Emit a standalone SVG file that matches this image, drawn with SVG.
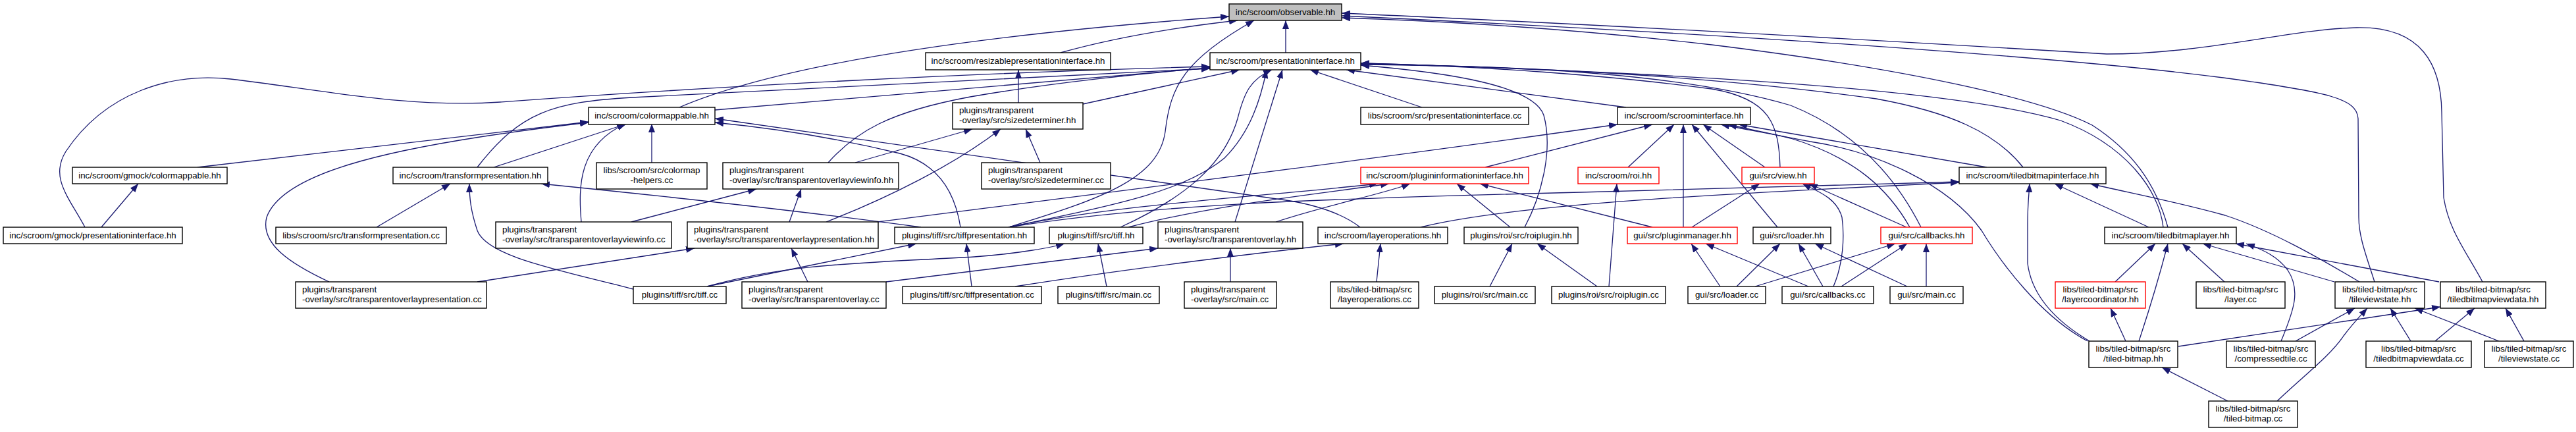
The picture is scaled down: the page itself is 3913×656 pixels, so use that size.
<svg xmlns="http://www.w3.org/2000/svg" width="3913" height="656" viewBox="0 0 3913 656">
<style>
.n rect{fill:#fff;stroke:#000;stroke-width:1.4}
.n.r rect{stroke:#f00}
.n.root rect{fill:#bfbfbf}
.n text{font-family:"Liberation Sans",Arial,sans-serif;font-size:13.3px;fill:#000;text-anchor:middle}
.n text.l{text-anchor:start}
#edges path{fill:none;stroke:#191970;stroke-width:1.3;marker-end:url(#a)}
</style>
<defs>
<marker id="a" markerUnits="userSpaceOnUse" markerWidth="13" markerHeight="10" viewBox="0 0 13 10" refX="13" refY="5" orient="auto"><path d="M0,0 L13,5 L0,10 z" fill="#191970"/></marker>
</defs>
<rect width="3913" height="656" fill="#fff"/>
<g id="edges">
<path d="M1611,80 C1700,55 1800,40 1880,31"/>
<path d="M1953,80 L1953,31"/>
<path d="M1032,163 Q1250,70 1867,25"/>
<path d="M1532,345 C1680,300 1760,270 1770,200 C1778,130 1800,90 1905,31"/>
<path d="M3607,428 C3595,390 3583,360 3583,330 L3582,180 C3580,150 3540,140 3377,118 C3200,95 2800,60 2038,24"/>
<path d="M3771,428 C3745,380 3720,350 3712,300 L3709,170 C3708,100 3680,40 3580,42 C3480,44 3350,82 3200,82 C3000,70 2500,40 2038,20"/>
<path d="M3293,345 C3275,280 3240,230 3178,190 C3100,150 2900,105 2600,68 C2400,45 2200,32 2038,27"/>
<path d="M1086,167 L1838,103"/>
<path d="M1547,156 L1547,106"/>
<path d="M1645,158 L1883,106"/>
<path d="M2160,163 L1990,106"/>
<path d="M2470,163 L2045,106"/>
<path d="M300,254 L894,185"/>
<path d="M750,254 L952,188"/>
<path d="M725,254 C790,170 840,155 960,148 L1838,104"/>
<path d="M990,247 L990,188"/>
<path d="M1299,247 L1477,196"/>
<path d="M1258,247 C1300,200 1350,170 1474,147 C1600,125 1750,110 1838,103"/>
<path d="M1580,247 L1558,196"/>
<path d="M2256,254 L2510,189"/>
<path d="M2473,254 L2543,189"/>
<path d="M2681,254 L2587,189"/>
<path d="M2704,254 C2702,190 2690,150 2600,135 C2450,115 2250,100 2067,96"/>
<path d="M3018,254 L2641,189"/>
<path d="M3073,254 C3030,200 2960,170 2850,150 C2600,115 2300,100 2067,97"/>
<path d="M129,345 C105,300 75,270 100,230 C160,140 260,110 350,120 C480,135 620,165 760,155 C1100,130 1500,110 1838,101"/>
<path d="M154,345 L210,279"/>
<path d="M572,345 L684,279"/>
<path d="M959,337 L1149,287"/>
<path d="M883,337 C878,280 880,220 950,188"/>
<path d="M1199,337 L1217,287"/>
<path d="M1255,337 C1350,300 1450,250 1520,196"/>
<path d="M1333,337 C1700,290 2100,240 2457,189"/>
<path d="M1399,345 C1200,318 1000,297 822,279"/>
<path d="M1459,345 C1452,300 1430,250 1367,233 C1280,212 1180,195 1086,186"/>
<path d="M1532,345 C1700,310 1800,290 1860,240 C1900,200 1915,150 1924,106"/>
<path d="M1532,345 C1700,310 1900,300 2093,279"/>
<path d="M1532,345 C1750,310 2000,302 2400,292 L2976,276"/>
<path d="M1702,345 C1800,300 1860,250 1880,180 C1890,140 1900,120 1932,106"/>
<path d="M1714,345 C1850,310 2000,295 2110,279"/>
<path d="M1876,337 L1948,106"/>
<path d="M1938,337 C2020,310 2100,295 2142,279"/>
<path d="M2066,345 C2040,325 2000,312 1960,305 L1086,180"/>
<path d="M2158,345 C2300,310 2600,295 2976,277"/>
<path d="M2316,345 C2340,300 2360,230 2345,175 C2330,130 2200,110 2067,99"/>
<path d="M2294,345 L2213,279"/>
<path d="M2510,345 L2248,279"/>
<path d="M2557,345 L2557,189"/>
<path d="M2570,345 L2673,279"/>
<path d="M2700,345 L2570,189"/>
<path d="M2896,345 L2748,279"/>
<path d="M2918,345 C2880,270 2820,200 2720,160 C2550,110 2300,100 2067,98"/>
<path d="M2901,345 C2870,290 2820,240 2720,210 C2680,200 2650,195 2625,189"/>
<path d="M3286,345 C3280,290 3230,220 3130,183 C3000,145 2700,115 2067,96"/>
<path d="M3264,345 L3121,279"/>
<path d="M500,428 C440,400 395,370 405,330 C430,260 600,220 894,186"/>
<path d="M725,428 L1055,377"/>
<path d="M962,439 C850,410 740,390 725,350 C715,320 713,300 713,279"/>
<path d="M1074,435 L1392,370"/>
<path d="M1074,435 C1200,400 1300,400 1480,390 C1550,385 1600,375 1617,370"/>
<path d="M1227,428 L1202,377"/>
<path d="M1346,428 L1759,377"/>
<path d="M1476,435 L1468,370"/>
<path d="M1542,435 C1700,410 1900,385 2041,370"/>
<path d="M1681,435 L1668,370"/>
<path d="M1869,428 L1869,377"/>
<path d="M2091,428 L2097,370"/>
<path d="M2263,435 L2297,370"/>
<path d="M2426,435 L2335,370"/>
<path d="M2444,435 L2456,279"/>
<path d="M2613,435 L2569,370"/>
<path d="M2638,435 L2704,370"/>
<path d="M2666,435 L2879,370"/>
<path d="M2747,435 L2591,370"/>
<path d="M2769,435 L2732,370"/>
<path d="M2797,435 L2897,370"/>
<path d="M2785,435 C2800,400 2802,360 2798,330 C2790,300 2760,290 2738,279"/>
<path d="M2897,435 L2757,370"/>
<path d="M2926,435 L2926,370"/>
<path d="M3213,428 L3274,370"/>
<path d="M3379,428 L3315,370"/>
<path d="M3546,428 L3346,370"/>
<path d="M3584,428 C3520,390 3450,350 3380,327 C3300,305 3230,292 3175,279"/>
<path d="M3705,428 L3396,370"/>
<path d="M3229,518 L3206,468"/>
<path d="M3249,518 C3265,470 3280,420 3293,370"/>
<path d="M3309,526 L3707,466"/>
<path d="M3174,518 C3110,480 3085,440 3080,400 L3080,340 C3080,310 3082,295 3083,279"/>
<path d="M3171,518 C3100,480 3040,400 3010,350 C2960,280 2850,230 2750,215 C2700,205 2660,198 2614,189"/>
<path d="M3487,518 L3577,468"/>
<path d="M3465,518 C3485,470 3495,440 3475,410 C3460,390 3440,380 3412,370"/>
<path d="M3662,518 L3631,468"/>
<path d="M3699,518 L3759,468"/>
<path d="M3796,518 L3668,468"/>
<path d="M3834,518 L3806,468"/>
<path d="M3384,609 L3284,558"/>
<path d="M3459,609 C3500,570 3540,540 3560,510 C3575,490 3585,480 3596,468"/>
</g>
<g id="n0" class="n root"><rect x="1867" y="6" width="171" height="25"/><text x="1952.5" y="23">inc/scroom/observable.hh</text></g>
<g id="n1" class="n"><rect x="1406" y="80" width="281" height="26"/><text x="1546.5" y="97">inc/scroom/resizablepresentationinterface.hh</text></g>
<g id="n2" class="n"><rect x="1838" y="80" width="229" height="26"/><text x="1952.5" y="97">inc/scroom/presentationinterface.hh</text></g>
<g id="n3" class="n"><rect x="894" y="163" width="192" height="26"/><text x="990" y="180">inc/scroom/colormappable.hh</text></g>
<g id="n4" class="n"><rect x="1447" y="156" width="198" height="40"/><text class="l" x="1457" y="172">plugins/transparent</text><text class="l" x="1457" y="187">-overlay/src/sizedeterminer.hh</text></g>
<g id="n5" class="n"><rect x="2067" y="163" width="255" height="26"/><text x="2194.5" y="180">libs/scroom/src/presentationinterface.cc</text></g>
<g id="n6" class="n"><rect x="2457" y="163" width="202" height="26"/><text x="2558" y="180">inc/scroom/scroominterface.hh</text></g>
<g id="n7" class="n"><rect x="110" y="254" width="235" height="25"/><text x="227.5" y="271">inc/scroom/gmock/colormappable.hh</text></g>
<g id="n8" class="n"><rect x="597" y="254" width="235" height="25"/><text x="714.5" y="271">inc/scroom/transformpresentation.hh</text></g>
<g id="n9" class="n"><rect x="906" y="247" width="168" height="40"/><text x="990" y="263">libs/scroom/src/colormap</text><text x="990" y="278">-helpers.cc</text></g>
<g id="n10" class="n"><rect x="1098" y="247" width="267" height="40"/><text class="l" x="1108" y="263">plugins/transparent</text><text class="l" x="1108" y="278">-overlay/src/transparentoverlayviewinfo.hh</text></g>
<g id="n11" class="n"><rect x="1491" y="247" width="196" height="40"/><text class="l" x="1501" y="263">plugins/transparent</text><text class="l" x="1501" y="278">-overlay/src/sizedeterminer.cc</text></g>
<g id="n12" class="n r"><rect x="2067" y="254" width="255" height="25"/><text x="2194.5" y="271">inc/scroom/plugininformationinterface.hh</text></g>
<g id="n13" class="n r"><rect x="2397" y="254" width="123" height="25"/><text x="2458.5" y="271">inc/scroom/roi.hh</text></g>
<g id="n14" class="n r"><rect x="2646" y="254" width="110" height="25"/><text x="2701" y="271">gui/src/view.hh</text></g>
<g id="n15" class="n"><rect x="2976" y="254" width="223" height="25"/><text x="3087.5" y="271">inc/scroom/tiledbitmapinterface.hh</text></g>
<g id="n16" class="n"><rect x="5" y="345" width="272" height="25"/><text x="141" y="362">inc/scroom/gmock/presentationinterface.hh</text></g>
<g id="n17" class="n"><rect x="419" y="345" width="259" height="25"/><text x="548.5" y="362">libs/scroom/src/transformpresentation.cc</text></g>
<g id="n18" class="n"><rect x="753" y="337" width="267" height="40"/><text class="l" x="763" y="353">plugins/transparent</text><text class="l" x="763" y="368">-overlay/src/transparentoverlayviewinfo.cc</text></g>
<g id="n19" class="n"><rect x="1044" y="337" width="290" height="40"/><text class="l" x="1054" y="353">plugins/transparent</text><text class="l" x="1054" y="368">-overlay/src/transparentoverlaypresentation.hh</text></g>
<g id="n20" class="n"><rect x="1359" y="345" width="212" height="25"/><text x="1465" y="362">plugins/tiff/src/tiffpresentation.hh</text></g>
<g id="n21" class="n"><rect x="1594" y="345" width="142" height="25"/><text x="1665" y="362">plugins/tiff/src/tiff.hh</text></g>
<g id="n22" class="n"><rect x="1759" y="337" width="220" height="40"/><text class="l" x="1769" y="353">plugins/transparent</text><text class="l" x="1769" y="368">-overlay/src/transparentoverlay.hh</text></g>
<g id="n23" class="n"><rect x="2002" y="345" width="197" height="25"/><text x="2100.5" y="362">inc/scroom/layeroperations.hh</text></g>
<g id="n24" class="n"><rect x="2224" y="345" width="173" height="25"/><text x="2310.5" y="362">plugins/roi/src/roiplugin.hh</text></g>
<g id="n25" class="n r"><rect x="2472" y="345" width="167" height="25"/><text x="2555.5" y="362">gui/src/pluginmanager.hh</text></g>
<g id="n26" class="n"><rect x="2663" y="345" width="118" height="25"/><text x="2722" y="362">gui/src/loader.hh</text></g>
<g id="n27" class="n r"><rect x="2857" y="345" width="139" height="25"/><text x="2926.5" y="362">gui/src/callbacks.hh</text></g>
<g id="n28" class="n"><rect x="3197" y="345" width="200" height="25"/><text x="3297" y="362">inc/scroom/tiledbitmaplayer.hh</text></g>
<g id="n29" class="n"><rect x="449" y="428" width="290" height="40"/><text class="l" x="459" y="444">plugins/transparent</text><text class="l" x="459" y="459">-overlay/src/transparentoverlaypresentation.cc</text></g>
<g id="n30" class="n"><rect x="962" y="435" width="141" height="26"/><text x="1032.5" y="452">plugins/tiff/src/tiff.cc</text></g>
<g id="n31" class="n"><rect x="1127" y="428" width="219" height="40"/><text class="l" x="1137" y="444">plugins/transparent</text><text class="l" x="1137" y="459">-overlay/src/transparentoverlay.cc</text></g>
<g id="n32" class="n"><rect x="1371" y="435" width="211" height="26"/><text x="1476.5" y="452">plugins/tiff/src/tiffpresentation.cc</text></g>
<g id="n33" class="n"><rect x="1607" y="435" width="154" height="26"/><text x="1684" y="452">plugins/tiff/src/main.cc</text></g>
<g id="n34" class="n"><rect x="1799" y="428" width="140" height="40"/><text class="l" x="1809" y="444">plugins/transparent</text><text class="l" x="1809" y="459">-overlay/src/main.cc</text></g>
<g id="n35" class="n"><rect x="2021" y="428" width="134" height="40"/><text x="2088" y="444">libs/tiled-bitmap/src</text><text x="2088" y="459">/layeroperations.cc</text></g>
<g id="n36" class="n"><rect x="2179" y="435" width="153" height="26"/><text x="2255.5" y="452">plugins/roi/src/main.cc</text></g>
<g id="n37" class="n"><rect x="2357" y="435" width="173" height="26"/><text x="2443.5" y="452">plugins/roi/src/roiplugin.cc</text></g>
<g id="n38" class="n"><rect x="2564" y="435" width="118" height="26"/><text x="2623" y="452">gui/src/loader.cc</text></g>
<g id="n39" class="n"><rect x="2707" y="435" width="139" height="26"/><text x="2776.5" y="452">gui/src/callbacks.cc</text></g>
<g id="n40" class="n"><rect x="2871" y="435" width="111" height="26"/><text x="2926.5" y="452">gui/src/main.cc</text></g>
<g id="n41" class="n r"><rect x="3122" y="428" width="137" height="40"/><text x="3190.5" y="444">libs/tiled-bitmap/src</text><text x="3190.5" y="459">/layercoordinator.hh</text></g>
<g id="n42" class="n"><rect x="3336" y="428" width="135" height="40"/><text x="3403.5" y="444">libs/tiled-bitmap/src</text><text x="3403.5" y="459">/layer.cc</text></g>
<g id="n43" class="n"><rect x="3547" y="428" width="136" height="40"/><text x="3615" y="444">libs/tiled-bitmap/src</text><text x="3615" y="459">/tileviewstate.hh</text></g>
<g id="n44" class="n"><rect x="3707" y="428" width="160" height="40"/><text x="3787" y="444">libs/tiled-bitmap/src</text><text x="3787" y="459">/tiledbitmapviewdata.hh</text></g>
<g id="n45" class="n"><rect x="3173" y="518" width="135" height="40"/><text x="3240.5" y="534">libs/tiled-bitmap/src</text><text x="3240.5" y="549">/tiled-bitmap.hh</text></g>
<g id="n46" class="n"><rect x="3382" y="518" width="135" height="40"/><text x="3449.5" y="534">libs/tiled-bitmap/src</text><text x="3449.5" y="549">/compressedtile.cc</text></g>
<g id="n47" class="n"><rect x="3594" y="518" width="160" height="40"/><text x="3674" y="534">libs/tiled-bitmap/src</text><text x="3674" y="549">/tiledbitmapviewdata.cc</text></g>
<g id="n48" class="n"><rect x="3774" y="518" width="135" height="40"/><text x="3841.5" y="534">libs/tiled-bitmap/src</text><text x="3841.5" y="549">/tileviewstate.cc</text></g>
<g id="n49" class="n"><rect x="3355" y="609" width="135" height="40"/><text x="3422.5" y="625">libs/tiled-bitmap/src</text><text x="3422.5" y="640">/tiled-bitmap.cc</text></g>
</svg>
